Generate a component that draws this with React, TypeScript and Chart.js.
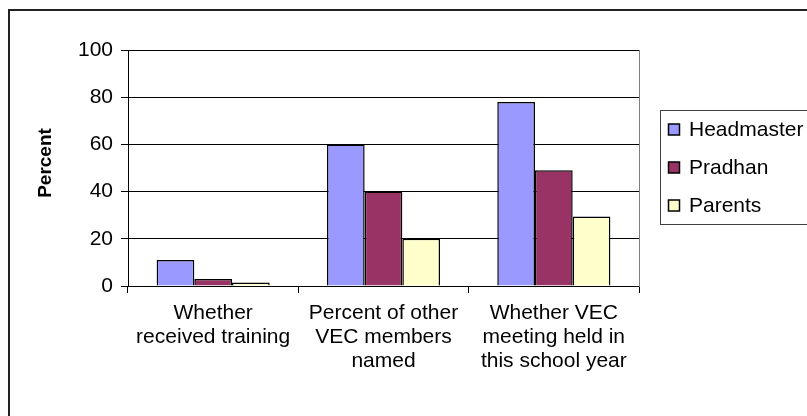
import React, { useEffect, useRef } from "react";
import { Chart, registerables } from "chart.js";

Chart.register(...registerables);

const categories: string[][] = [
  ["Whether", "received training"],
  ["Percent of other", "VEC members", "named"],
  ["Whether VEC", "meeting held in", "this school year"],
];
const seriesNames = ["Headmaster", "Pradhan", "Parents"];
const headmaster = [11, 60, 78];
const pradhan = [3, 40, 49];
const parents = [1.5, 20, 29.5];
const yTicks = [0, 20, 40, 60, 80, 100];
const yTitle = "Percent";

const FONT = "'Liberation Sans', Arial, sans-serif";
const COLORS = ["#9999FF", "#993366", "#FFFFCC"];

const decorPlugin = {
  id: "decor",
  beforeDraw(chart: any) {
    const ctx = chart.ctx;
    ctx.save();
    ctx.fillStyle = "#ffffff";
    ctx.fillRect(0, 0, chart.width, chart.height);
    // outer chart border (cropped at right/bottom)
    ctx.strokeStyle = "#222222";
    ctx.lineWidth = 2;
    ctx.beginPath();
    ctx.moveTo(9, chart.height + 2);
    ctx.lineTo(9, 10);
    ctx.lineTo(chart.width + 2, 10);
    ctx.stroke();
    ctx.restore();
  },
  beforeDatasetsDraw(chart: any) {
    const { ctx, chartArea } = chart;
    ctx.save();
    ctx.strokeStyle = "#808080";
    ctx.lineWidth = 1;
    ctx.beginPath();
    const x = Math.round(chartArea.right) + 0.5;
    ctx.moveTo(x, chartArea.top);
    ctx.lineTo(x, chartArea.bottom + 1);
    ctx.stroke();
    ctx.restore();
  },
  afterDraw(chart: any) {
    const ctx = chart.ctx;
    ctx.save();
    // y-axis title
    ctx.fillStyle = "#000";
    ctx.font = `bold 19px ${FONT}`;
    ctx.textAlign = "center";
    ctx.textBaseline = "middle";
    ctx.translate(46, 163);
    ctx.rotate(-Math.PI / 2);
    ctx.fillText(yTitle, 0, 0);
    ctx.restore();

    ctx.save();
    // legend box
    const lx = 660.5, ly = 110.5, lb = 224.5;
    ctx.strokeStyle = "#404040";
    ctx.lineWidth = 1;
    ctx.strokeRect(lx, ly, 300, lb - ly);
    ctx.font = `21px ${FONT}`;
    ctx.textBaseline = "middle";
    ctx.textAlign = "left";
    chart.data.datasets.forEach((ds: any, i: number) => {
      const cy = 129.5 + i * 38;
      ctx.fillStyle = ds.backgroundColor;
      ctx.fillRect(668.5, cy - 5.5, 11, 11);
      ctx.strokeStyle = "#000";
      ctx.lineWidth = 1.5;
      ctx.strokeRect(668.5, cy - 5.5, 11, 11);
      ctx.fillStyle = "#000";
      ctx.fillText(ds.label, 689, cy + 1);
    });
    ctx.restore();
  },
};

export default function App() {
  const ref = useRef<HTMLCanvasElement | null>(null);
  useEffect(() => {
    if (!ref.current) return;
    const chart = new Chart(ref.current, {
      type: "bar",
      data: {
        labels: categories,
        datasets: [headmaster, pradhan, parents].map((d, i) => ({
          label: seriesNames[i],
          data: d,
          backgroundColor: COLORS[i],
          borderColor: "#000000",
          borderWidth: 1.5,
          categoryPercentage: 0.664,
          barPercentage: 1,
        })),
      },
      options: {
        responsive: false,
        animation: false,
        devicePixelRatio: 1,
        layout: { padding: { left: 10, top: 50, right: 168, bottom: 30 } },
        plugins: {
          legend: { display: false },
          tooltip: { enabled: false },
        },
        scales: {
          x: {
            grid: {
              display: true,
              drawOnChartArea: false,
              drawTicks: true,
              tickLength: 7,
              color: "#000000",
              offset: true,
            },
            border: { display: true, color: "#000000", width: 1 },
            ticks: {
              font: { family: FONT, size: 21, lineHeight: 1.143 },
              color: "#000000",
              maxRotation: 0,
              minRotation: 0,
              autoSkip: false,
              padding: 8,
            },
            afterFit: (s: any) => {
              s.height = 100;
            },
          },
          y: {
            min: 0,
            max: 100,
            afterBuildTicks: (s: any) => {
              s.ticks = yTicks.map((v) => ({ value: v }));
            },
            grid: { color: "#000000", tickLength: 7, lineWidth: 1 },
            border: { display: true, color: "#000000", width: 1 },
            ticks: {
              font: { family: FONT, size: 21 },
              color: "#000000",
              padding: 8,
            },
            afterFit: (s: any) => {
              s.width = 118;
            },
          },
        },
      },
      plugins: [decorPlugin],
    });
    return () => chart.destroy();
  }, []);
  return (
    <div style={{ position: "fixed", left: 0, top: 0, width: 807, height: 416, overflow: "hidden", background: "#fff" }}>
      <canvas ref={ref} width={807} height={416} style={{ width: 807, height: 416, display: "block" }} />
    </div>
  );
}
